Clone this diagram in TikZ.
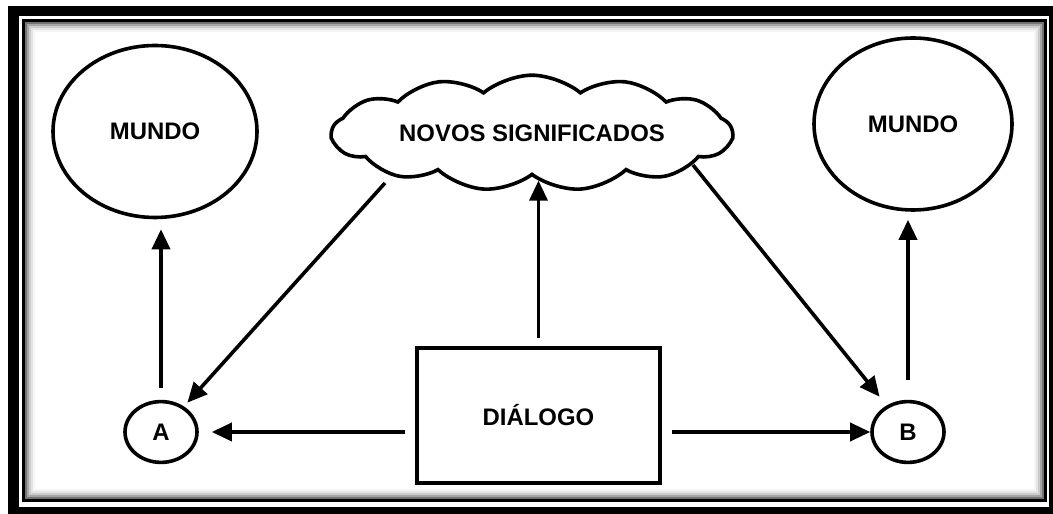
\documentclass[tikz,border=0pt]{standalone}
\usepackage{fontspec}
\setmainfont{Liberation Sans}
\usetikzlibrary{shapes.geometric, shapes.symbols, positioning, arrows.meta}
\tikzset{
    ->, % every connector is an arrow
    >={Triangle[length=5mm, width=4.5mm]}, % big filled heads
    every picture/.style={line width=0.09cm}, % thick lines everywhere
    every node/.style={font=\fontsize{17}{20}\selectfont\bfseries}, % bold sans labels
}
\begin{document}
\begin{tikzpicture}[
        place/.style={ellipse, draw, inner sep=0pt},
        mundo/.style={place, minimum width=5.1cm, minimum height=4.3cm},
        pessoa/.style={place, minimum width=1.8cm, minimum height=1.52cm},
        node distance=18.675cm,
    ]
    \useasboundingbox (0,0) rectangle (26.325,12.85);
    \begin{scope}[-]
        \fill[black] (0.2,0) rectangle (26.325,12.7);
        \fill[white] (0.475,0.175) rectangle (26.225,12.45);
        \draw[line width=0.075cm] (0.5875,0.3375) rectangle (26.1375,12.3375);
        \foreach \d/\c in {0.025/55, 0.075/35, 0.125/20, 0.175/10, 0.225/4}
            \draw[line width=0.05cm, black!\c] (0.625+\d,0.375+\d) rectangle (26.1-\d,12.3-\d);
    \end{scope}
    \node[pessoa] (pA) at (4.025,2.05) {A};
    \node[pessoa, right of=pA] (pB) {B};
    \node[mundo] (mundoA) at (3.875,9.5625) {MUNDO};
    \node[mundo, minimum width=4.95cm] (mundoB) at (22.825,9.75) {MUNDO};
    \node[cloud, draw, cloud puffs=13, cloud puff arc=80, aspect=4.4, inner sep=0pt, minimum width=10cm, minimum height=2.25cm] (novos) at (13.3,9.525) {NOVOS SIGNIFICADOS};
    \node[draw, minimum width=6.075cm, minimum height=3.375cm, line width=0.1cm] (dlg) at (13.4625,2.4625) {DIÁLOGO};
    \coordinate (nA) at (9.625,8.275);
    \coordinate (nB) at (17.325,8.725);
    \path
    (dlg.west |- pA) edge[shorten <=0.25cm, shorten >=0.325cm] (pA)
    (dlg.east |- pB) edge[shorten <=0.25cm] (pB)
    (pA.north) edge[shorten <=0.3cm, shorten >=0.25cm] (pA.north |- mundoA.south)
    (pB.north) edge[shorten <=0.5cm, shorten >=0.2cm] (pB.north |- mundoB.south)
    (dlg.north) edge[shorten <=0.2cm, shorten >=0.1cm] (dlg.north |- novos.south)
    (nA) edge[shorten >=0.125cm] (pA)
    (nB) edge[shorten >=0.28cm] (pB);
\end{tikzpicture}
\end{document}
